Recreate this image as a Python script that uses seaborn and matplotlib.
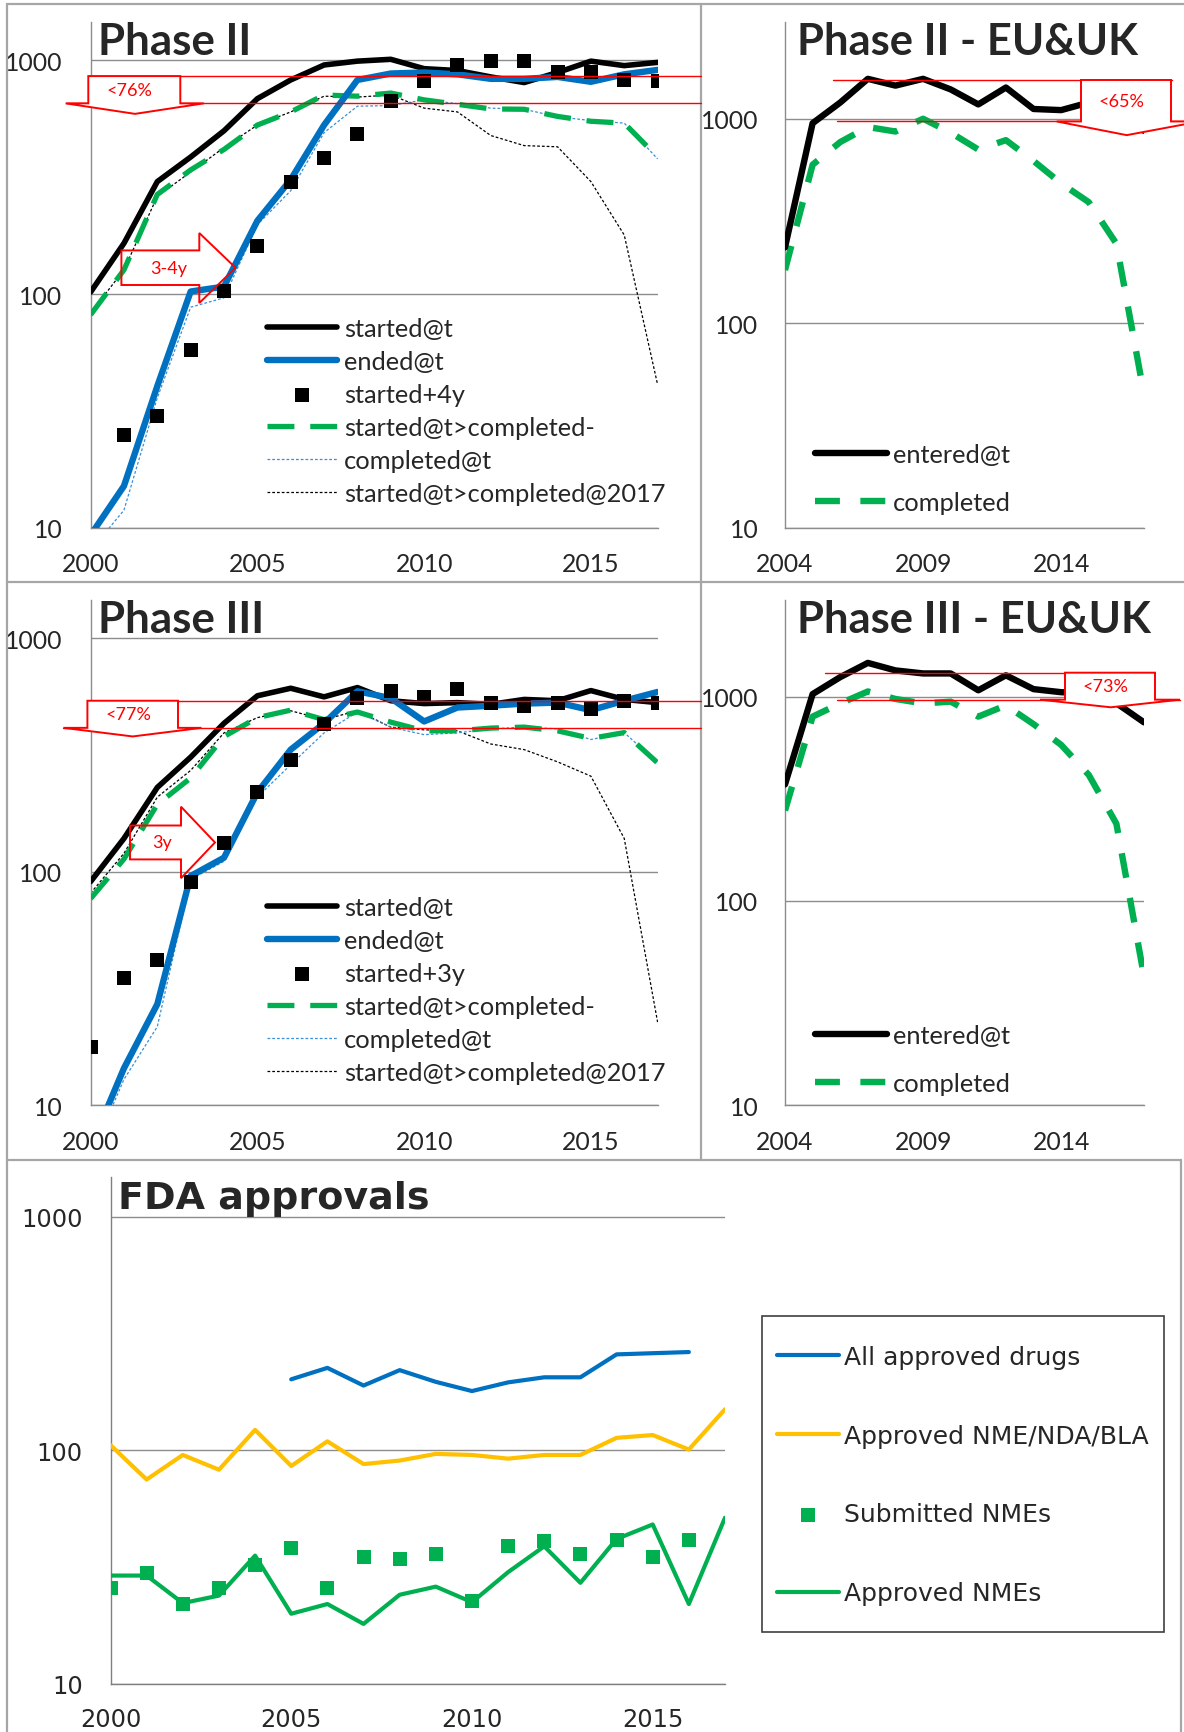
import matplotlib
matplotlib.use("Agg")
import matplotlib.pyplot as plt
import seaborn as sns
from matplotlib.lines import Line2D
from matplotlib.patches import Polygon, Rectangle
from matplotlib.ticker import FixedLocator, NullLocator, FuncFormatter

# ---------------------------------------------------------------- data
years = list(range(2000, 2018))
years_from_2001 = list(range(2001, 2018))
eu_years = list(range(2004, 2018))
fda_all_years = list(range(2005, 2017))
fda_sub_years = list(range(2000, 2017))

# Phase II (worldwide)
p2_started = [102, 165, 303, 386, 500, 686, 825, 956, 993, 1011, 922, 905, 850, 804, 888, 993, 950, 981]
p2_ended = [9.3, 15.1, 40.4, 102.6, 107.7, 206, 309, 529, 825, 879, 888, 872, 834, 834, 850, 810, 872, 911]
p2_started_4y = [24.9, 30.0, 57.8, 103.4, 160.7, 303, 383, 486, 668, 816, 956, 993, 993, 895, 895, 825, 816]
p2_started_completed = [81.6, 127, 267, 340, 416, 529, 602, 711, 703, 725, 678, 649, 620, 618, 576, 549, 539, 386]
p2_completed = [8.0, 11.9, 36, 87.9, 96.4, 198, 277, 491, 637, 641, 678, 653, 625, 618, 574, 553, 539, 379]
p2_completed_2017 = [83, 127, 262, 333, 424, 529, 602, 703, 697, 711, 625, 602, 477, 432, 427, 303, 179, 41]

# Phase III (worldwide)
p3_started = [90.8, 139, 230, 310, 433, 568, 612, 562, 616, 541, 526, 531, 522, 548, 541, 598, 548, 531]
p3_ended = [6.6, 14.4, 27.1, 96, 115, 219, 334, 433, 594, 555, 441, 506, 515, 526, 531, 493, 541, 590]
p3_started_3y = [17.7, 35.2, 42.1, 90.8, 132.7, 219, 301, 428, 555, 598, 562, 610, 531, 515, 531, 497, 541, 531]
p3_started_completed = [76.8, 113.5, 194.5, 252.5, 380, 458, 493, 449, 484, 438, 402, 402, 413, 417, 402, 373, 395, 293]
p3_completed = [6.0, 12.9, 21.7, 92.7, 111, 209, 288, 394, 484, 417, 387, 394, 410, 417, 410, 369, 395, 293]
p3_completed_2017 = [81, 120, 209, 272, 394, 458, 490, 449, 490, 417, 406, 402, 353, 334, 296, 257, 139, 22.7]

# EU & UK
eu2_entered = [235, 951, 1200, 1567, 1452, 1567, 1391, 1175, 1421, 1116, 1102, 1200, 1060, 873]
eu2_completed = [182, 596, 769, 911, 866, 1000, 855, 707, 786, 622, 483, 391, 245, 45]
eu3_entered = [372, 1030, 1247, 1464, 1345, 1300, 1300, 1075, 1273, 1089, 1052, 1040, 930, 749]
eu3_completed = [277, 799, 927, 1061, 975, 927, 946, 799, 907, 734, 581, 414, 239, 42.8]

# FDA
fda_all_approved = [201, 225, 189, 220, 196, 179, 195, 205, 205, 257, 260, 263]
fda_nme_nda_bla = [105, 74.8, 95.3, 82.4, 122, 85.5, 109, 87.1, 90.2, 96.3, 95.3, 91.9, 95.3, 95.3, 112.8, 116, 100.5, 149.6]
fda_submitted_nme = [25.7, 29.8, 21.9, 25.6, 32.3, 38, 25.7, 35, 34.1, 36, 22.6, 38.9, 40.8, 36, 41.2, 35, 41.2]
fda_approved_nme = [29, 29, 22.1, 23.8, 35.3, 19.9, 21.9, 18, 24, 26, 22.3, 30, 38.7, 27, 41.6, 48, 21.9, 51.3]

# completion-ratio bands (upper level, lower level, label)
p2_band = (857, 655, "<76%")
p3_band = (541, 414, "<77%")
eu2_band = (1547, 970, "<65%")
eu3_band = (1311, 967, "<73%")

# ---------------------------------------------------------------- style
sns.set_style("white")
TOP_FONT = ["Lato", "DejaVu Sans"]
FDA_FONT = ["DejaVu Sans"]
plt.rcParams["font.family"] = TOP_FONT

BLACK = "#000000"
BLUE = "#0070C0"
GREEN = "#00B050"
YELLOW = "#FFC000"
THIN_BLUE = "#3A8FD8"
GRID = "#8C8C8C"
FRAME = "#A6A6A6"
RED = "#FF0000"

W, H = 1184, 1733
fig = plt.figure(figsize=(W / 100, H / 100), dpi=100)


def add_axes(left, top, right, bottom):
    ax = fig.add_axes([left / W, 1 - bottom / H, (right - left) / W, (bottom - top) / H])
    ax.patch.set_alpha(0)
    return ax


def style_axis(ax, xlim, ytop, xticks, family, size, ylen, xlen, ypad, xpad):
    ax.set_yscale("log")
    ax.set_xlim(*xlim)
    ax.set_ylim(10, ytop)
    ax.yaxis.set_major_locator(FixedLocator([10, 100, 1000]))
    ax.yaxis.set_minor_locator(NullLocator())
    ax.yaxis.set_major_formatter(FuncFormatter(lambda v, p: f"{v:.0f}"))
    ax.set_xticks(xticks)
    ax.set_xticklabels([str(t) for t in xticks])
    ax.grid(False)
    ax.grid(axis="y", color=GRID, lw=1.0)
    for s in ("top", "right"):
        ax.spines[s].set_visible(False)
    for s in ("left", "bottom"):
        ax.spines[s].set_color(GRID)
        ax.spines[s].set_linewidth(1.0)
    ax.tick_params(axis="y", length=ylen, width=1, color=GRID, pad=ypad, labelsize=size)
    ax.tick_params(axis="x", length=xlen, width=1, color=GRID, pad=xpad, labelsize=size)
    for lab in ax.get_xticklabels() + ax.get_yticklabels():
        lab.set_family(family)
    ax.set_xlabel("")
    ax.set_ylabel("")


def line(ax, x, y, color, lw, label, dashes=None, z=2):
    sns.lineplot(x=x, y=y, ax=ax, color=color, linewidth=lw, zorder=z, legend=False)
    ln = ax.lines[-1]
    ln.set_label(label)
    ln.set_solid_joinstyle("round")
    if dashes is not None:
        ln.set_dashes(dashes)
        ln.set_dash_capstyle("butt")
    return ln


def squares(ax, x, y, color, size, label):
    sns.scatterplot(x=x, y=y, ax=ax, marker="s", s=size, color=color, linewidth=0,
                    zorder=5, legend=False)
    ax.collections[-1].set_label(label)


def legend(ax, labels, left, top, size, family, hlen, tpad, spacing):
    found = {h.get_label(): h for h in list(ax.lines) + list(ax.collections)}
    handles = [found[l] for l in labels]
    ax.legend(handles, labels, loc="upper left", bbox_to_anchor=(left / W, 1 - top / H),
              bbox_transform=fig.transFigure, frameon=False, borderpad=0, borderaxespad=0,
              handlelength=hlen, handletextpad=tpad, labelspacing=spacing,
              prop={"family": family, "size": size}, scatterpoints=1)


def ypix(ax, value):
    return H - ax.transData.transform((ax.get_xlim()[0], value))[1]


def hline(y, x0, x1):
    fig.add_artist(Line2D([x0 / W, x1 / W], [1 - y / H] * 2, color=RED, lw=1.0, zorder=5))


def poly(pts, fill):
    fig.add_artist(Polygon([(x / W, 1 - y / H) for x, y in pts], closed=True,
                           transform=fig.transFigure, facecolor=fill, edgecolor=RED,
                           lw=1.4, zorder=6, joinstyle="miter"))


def ratio_band(ax, band, up_x, low_x, box_x, flange_x, tip_x, tip_dy, text_x):
    upper, lower, text = band
    yu, yl = ypix(ax, upper), ypix(ax, lower)
    hline(yu, *up_x)
    hline(yl, *low_x)
    bx0, bx1 = box_x
    fx0, fx1 = flange_x
    poly([(bx0, yu), (bx1, yu), (bx1, yl), (fx1, yl), (tip_x, yl + tip_dy),
          (fx0, yl), (bx0, yl)], "white")
    fig.text(text_x / W, 1 - (yu + yl) / 2 / H, text, color=RED,
             ha="center", va="center", fontsize=13, zorder=7)


def lag_arrow(x0, x1, y0, y1, hy0, hy1, tip, text, text_x):
    ty = (y0 + y1) / 2
    poly([(x0, y0), (x1, y0), (x1, hy0), (tip, ty), (x1, hy1), (x1, y1), (x0, y1)], "none")
    fig.text(text_x / W, 1 - ty / H, text, color=RED, ha="center", va="center",
             fontsize=13, zorder=7)


WORLD_LABELS = ["started@t", "ended@t", None, "started@t>completed-", "completed@t",
                "started@t>completed@2017"]
TICK_SIZE = 17.8


def world_panel(ax, started, ended, sq_x, sq_y, sq_label, comp_minus, completed, comp2017):
    line(ax, years, comp2017, BLACK, 0.9, WORLD_LABELS[5], dashes=(2.2, 1.6), z=2)
    line(ax, years, completed, THIN_BLUE, 0.9, WORLD_LABELS[4], dashes=(2.2, 1.6), z=2)
    line(ax, years, comp_minus, GREEN, 3.8, WORLD_LABELS[3], dashes=(5.1, 3.0), z=3)
    line(ax, years, started, BLACK, 4.0, WORLD_LABELS[0], z=4)
    line(ax, years, ended, BLUE, 4.6, WORLD_LABELS[1], z=4)
    squares(ax, sq_x, sq_y, BLACK, 100, sq_label)
    style_axis(ax, (2000, 2017), 1466, [2000, 2005, 2010, 2015], TOP_FONT, TICK_SIZE,
               7.2, 6.5, 13, 11)
    labels = WORLD_LABELS[:2] + [sq_label] + WORLD_LABELS[3:]
    return labels


def eu_panel(ax, entered, completed):
    line(ax, eu_years, completed, GREEN, 4.6, "completed", dashes=(3.9, 3.2), z=3)
    line(ax, eu_years, entered, BLACK, 4.6, "entered@t", z=4)
    style_axis(ax, (2004, 2017), 2985, [2004, 2009, 2014], TOP_FONT, TICK_SIZE,
               7.2, 6.5, 12, 11)


LEG_SIZE = 18.3

# ---------------------------------------------------------------- Phase II
ax_p2 = add_axes(90.6, 22.6, 657.6, 528.8)
labs = world_panel(ax_p2, p2_started, p2_ended, years_from_2001, p2_started_4y, "started+4y",
                   p2_started_completed, p2_completed, p2_completed_2017)
legend(ax_p2, labs, 267, 318.2, LEG_SIZE, TOP_FONT, 2.76, 0.28, 0.39)
ratio_band(ax_p2, p2_band, (88, 701), (65.7, 701), (88.3, 180.3), (65.7, 203.8), 135, 10.5, 129)
lag_arrow(121.4, 199.3, 251.4, 286, 234, 304, 235.5, "3-4y", 169)

# ---------------------------------------------------------------- Phase II EU&UK
ax_e2 = add_axes(785, 22.6, 1144, 528.8)
eu_panel(ax_e2, eu2_entered, eu2_completed)
legend(ax_e2, ["entered@t", "completed"], 815, 444.2, LEG_SIZE, TOP_FONT, 2.83, 0.25, 0.98)
ratio_band(ax_e2, eu2_band, (833, 1172), (836.7, 1184), (1081, 1171), (1056.7, 1200), 1126.7,
           13.7, 1121)

# ---------------------------------------------------------------- Phase III
ax_p3 = add_axes(90.6, 600.7, 657.6, 1106.2)
labs = world_panel(ax_p3, p3_started, p3_ended, years, p3_started_3y, "started+3y",
                   p3_started_completed, p3_completed, p3_completed_2017)
legend(ax_p3, labs, 267, 897, LEG_SIZE, TOP_FONT, 2.76, 0.28, 0.39)
ratio_band(ax_p3, p3_band, (88.3, 701), (63.4, 701), (87.4, 178), (63.4, 201.5), 132.7, 8.6, 128)
lag_arrow(130, 181, 826.5, 860.4, 807.7, 879.2, 215, "3y", 162.5)

# ---------------------------------------------------------------- Phase III EU&UK
ax_e3 = add_axes(785, 600.7, 1144, 1106.2)
eu_panel(ax_e3, eu3_entered, eu3_completed)
legend(ax_e3, ["entered@t", "completed"], 815, 1025, LEG_SIZE, TOP_FONT, 2.83, 0.25, 0.98)
ratio_band(ax_e3, eu3_band, (825, 1155), (836.7, 1180), (1065, 1155), (1040, 1180), 1110.7,
           7.6, 1105)

# ---------------------------------------------------------------- FDA approvals
ax_f = add_axes(110.5, 1177.5, 725, 1684.5)
line(ax_f, fda_all_years, fda_all_approved, BLUE, 3.0, "All approved drugs", z=3)
line(ax_f, years, fda_nme_nda_bla, YELLOW, 3.0, "Approved NME/NDA/BLA", z=3)
squares(ax_f, fda_sub_years, fda_submitted_nme, GREEN, 90, "Submitted NMEs")
line(ax_f, years, fda_approved_nme, GREEN, 3.0, "Approved NMEs", z=4)
style_axis(ax_f, (2000, 2017), 1486, [2000, 2005, 2010, 2015], FDA_FONT, 17.3, 0, 0, 20, 17)
ax_f.spines["left"].set_color("#7F7F7F")
ax_f.spines["bottom"].set_color("#7F7F7F")
legend(ax_f, ["All approved drugs", "Approved NME/NDA/BLA", "Submitted NMEs", "Approved NMEs"],
       776.7, 1346, 18, FDA_FONT, 2.48, 0.2, 2.19)
fig.add_artist(Rectangle((761.7 / W, 1 - 1633 / H), (1164 - 761.7) / W, (1633 - 1316.7) / H,
                         transform=fig.transFigure, facecolor="none", edgecolor="#404040",
                         lw=1.2, zorder=3))

# ---------------------------------------------------------------- titles
title_kw = dict(fontweight="bold", va="baseline", ha="left", zorder=8)
fig.text(97.5 / W, 1 - 54.6 / H, "Phase II", fontsize=31.6, **title_kw)
fig.text(797 / W, 1 - 54.6 / H, "Phase II - EU&UK", fontsize=31.3, **title_kw)
fig.text(97.5 / W, 1 - 632.7 / H, "Phase III", fontsize=31.6, **title_kw)
fig.text(797 / W, 1 - 632.7 / H, "Phase III - EU&UK", fontsize=31.3, **title_kw)
fig.text(118 / W, 1 - 1209.3 / H, "FDA approvals", fontsize=27.4, family=FDA_FONT, **title_kw)

# ---------------------------------------------------------------- panel frames
def frame(x0, y0, x1, y1):
    fig.add_artist(Line2D([x0 / W, x1 / W], [1 - y0 / H, 1 - y1 / H], color=FRAME,
                          lw=1.6, zorder=1))

frame(6.7, 5, 1184, 5)
frame(6.7, 5, 6.7, 1733)
frame(701, 5, 701, 1161)
frame(6.7, 583, 1184, 583)
frame(6.7, 1161, 1181, 1161)
frame(1181, 1161, 1181, 1733)

fig.savefig("out.png", dpi=100, facecolor="white")
